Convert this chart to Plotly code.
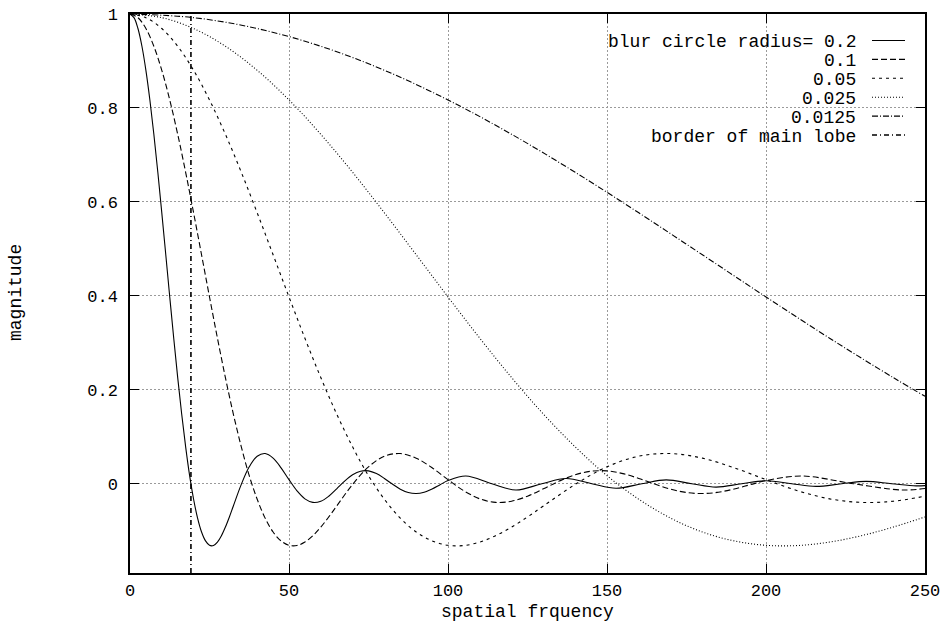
import plotly.graph_objects as go

# ---------------- data ----------------
# blur circle radius = 0.2
f_r02 = [0, 1.25, 2.5, 3.75, 5, 6.25, 7.5, 8.75, 10, 11.25, 12.5, 13.75, 15, 16.25,
         17.5, 18.75, 20, 21.25, 22.5, 23.75, 25, 26.25, 27.5, 28.75, 30, 31.25, 32.5,
         35, 37.5, 40, 42.5, 45, 47.5, 50, 52.5, 55, 57.5, 60, 62.5, 65, 67.5, 70, 72.5,
         75, 77.5, 80, 82.5, 85, 87.5, 90, 92.5, 95, 97.5, 100,
         105.6, 113.8, 121.35, 129.5, 137.1, 145.25, 152.85, 160.95, 168.6, 176.65,
         184.3, 192.35, 200.05, 208.1, 215.75, 223.8, 231.5, 239.5, 247.2, 250]
m_r02 = [1.0, 0.99221, 0.96907, 0.93132, 0.8801, 0.817, 0.74392, 0.66304, 0.57672,
         0.48745, 0.39768, 0.3098, 0.22604, 0.14838, 0.0785, 0.01718, -0.03302,
         -0.07318, -0.10271, -0.12169, -0.13105, -0.1315, -0.12415, -0.11061,
         -0.09223, -0.07066, -0.04732,
         -0.00134, 0.03605, 0.05865, 0.06426, 0.05451, 0.03396, 0.00869, -0.01503,
         -0.03215, -0.03972, -0.03723, -0.02648, -0.01082, 0.00563, 0.01906, 0.02668,
         0.02735, 0.02157, 0.0113, -0.0007, -0.01149, -0.01867, -0.02089, -0.01803,
         -0.01113, -0.00214, 0.00668,
         0.01645, 0.0, -0.01335, 0.0, 0.01111, 0.0, -0.00944, 0.0, 0.00815, 0.0,
         -0.00713, 0.0, 0.0063, 0.0, -0.00563, 0.0, 0.00507, 0.0, -0.00459, -0.0039]

# blur circle radius = 0.1
f_r01 = [0, 2.5, 5, 7.5, 10, 12.5, 15, 17.5, 20, 22.5, 25, 27.5, 30, 32.5, 35, 37.5,
         40, 42.5, 45, 47.5, 50, 52.5, 55, 57.5, 60, 62.5, 65,
         70, 75, 80, 85, 90, 95, 100, 105, 110, 115, 120, 125, 130, 135, 140, 145,
         150, 155, 160, 165, 170, 175, 180, 185, 190, 195, 200,
         211.2, 227.6, 242.7, 250]
m_r01 = [1.0, 0.99221, 0.96907, 0.93132, 0.8801, 0.817, 0.74392, 0.66304, 0.57672,
         0.48745, 0.39768, 0.3098, 0.22604, 0.14838, 0.0785, 0.01718, -0.03302,
         -0.07318, -0.10271, -0.12169, -0.13105, -0.1315, -0.12415, -0.11061,
         -0.09223, -0.07066, -0.04732,
         -0.00134, 0.03605, 0.05865, 0.06426, 0.05451, 0.03396, 0.00869, -0.01503,
         -0.03215, -0.03972, -0.03723, -0.02648, -0.01082, 0.00563, 0.01906, 0.02668,
         0.02735, 0.02157, 0.0113, -0.0007, -0.01149, -0.01867, -0.02089, -0.01803,
         -0.01113, -0.00214, 0.00668,
         0.01645, 0.0, -0.01335, -0.0101]

# blur circle radius = 0.05
f_r005 = [0, 5, 10, 15, 20, 25, 30, 35, 40, 45, 50, 55, 60, 65, 70, 75, 80, 85, 90,
          95, 100, 105, 110, 115, 120, 125, 130,
          140, 150, 160, 170, 180, 190, 200, 210, 220, 230, 240, 250]
m_r005 = [1.0, 0.99221, 0.96907, 0.93132, 0.8801, 0.817, 0.74392, 0.66304, 0.57672,
          0.48745, 0.39768, 0.3098, 0.22604, 0.14838, 0.0785, 0.01718, -0.03302,
          -0.07318, -0.10271, -0.12169, -0.13105, -0.1315, -0.12415, -0.11061,
          -0.09223, -0.07066, -0.04732,
          -0.00134, 0.03605, 0.05865, 0.06426, 0.05451, 0.03396, 0.00869, -0.01503,
          -0.03215, -0.03972, -0.03723, -0.02648]

# blur circle radius = 0.025
f_r0025 = [0, 10, 20, 30, 40, 50, 60, 70, 80, 90, 100, 110, 120, 130, 140, 150, 160,
           170, 180, 190, 200, 210, 220, 230, 240, 250]
m_r0025 = [1.0, 0.99221, 0.96907, 0.93132, 0.8801, 0.817, 0.74392, 0.66304, 0.57672,
           0.48745, 0.39768, 0.3098, 0.22604, 0.14838, 0.0785, 0.01718, -0.03302,
           -0.07318, -0.10271, -0.12169, -0.13105, -0.1315, -0.12415, -0.11061,
           -0.09223, -0.07066]

# blur circle radius = 0.0125
f_r00125 = [0, 20, 40, 60, 80, 100, 120, 140, 160, 180, 200, 220, 240, 250]
m_r00125 = [1.0, 0.99221, 0.96907, 0.93132, 0.8801, 0.817, 0.74392, 0.66304, 0.57672,
            0.48745, 0.39768, 0.3098, 0.22604, 0.18627]

# border of main lobe (first zero of the 0.2 curve)
f_border = [19.16, 19.16]
m_border = [-0.19, 1.0]

legend_labels = ["blur circle radius= 0.2", "0.1", "0.05", "0.025", "0.0125",
                 "border of main lobe"]
x_ticks = [0, 50, 100, 150, 200, 250]
y_ticks = [0, 0.2, 0.4, 0.6, 0.8, 1]
y_ticktext = ["0", "0.2", "0.4", "0.6", "0.8", "1"]

# ---------------- styles ----------------
FONT = "Liberation Mono, Courier New, monospace"
FS = 18
FS_TICK = 17
dashes = ["solid", "6px,3px", "3px,4px", "1px,2px", "6px,2px,1px,2px", "5px,3px,1px,3px"]
widths = [1.1, 1.1, 1.1, 1.1, 1.1, 1.6]

series = [(f_r02, m_r02), (f_r01, m_r01), (f_r005, m_r005), (f_r0025, m_r0025),
          (f_r00125, m_r00125), (f_border, m_border)]

fig = go.Figure()
for i, (fx, my) in enumerate(series):
    fig.add_trace(go.Scatter(
        x=fx, y=my, mode="lines", name=legend_labels[i], showlegend=False,
        line=dict(color="black", width=widths[i], dash=dashes[i],
                  shape="spline" if i < 5 else "linear", smoothing=1.0),
        hoverinfo="skip"))

W, H = 942, 627
L, R, T, B = 130, 17, 14, 54
pw, ph = W - L - R, H - T - B

def px(xp):
    return (xp - L) / pw

def py(yp):
    return (H - B - yp) / ph

annotations = []
shapes = []
for i, lab in enumerate(legend_labels):
    ys = 40.5 + 18.9 * i
    annotations.append(dict(
        text=lab, xref="paper", yref="paper", x=px(858), y=py(ys + 1.5),
        xanchor="right", yanchor="middle", showarrow=False,
        font=dict(family=FONT, size=FS, color="black")))
    shapes.append(dict(
        type="line", xref="paper", yref="paper", x0=px(872), x1=px(905),
        y0=py(ys), y1=py(ys),
        line=dict(color="black", width=widths[i], dash=dashes[i])))

annotations.append(dict(
    text="spatial frquency", xref="paper", yref="paper", x=px(527), y=py(612),
    xanchor="center", yanchor="middle", showarrow=False,
    font=dict(family=FONT, size=FS, color="black")))
annotations.append(dict(
    text="magnitude", xref="paper", yref="paper", x=px(16), y=py(293),
    xanchor="center", yanchor="middle", showarrow=False, textangle=-90,
    font=dict(family=FONT, size=FS, color="black")))

axis_common = dict(
    showline=True, linecolor="black", linewidth=1.5, mirror="ticks",
    ticks="inside", ticklen=9, tickwidth=1.2, tickcolor="black",
    showgrid=True, gridcolor="#9a9a9a", gridwidth=1, griddash="2px,2px",
    zeroline=False, automargin=False,
    tickfont=dict(family=FONT, size=FS_TICK, color="black"))

fig.update_layout(
    width=W, height=H,
    margin=dict(l=L, r=R, t=T, b=B, pad=0),
    paper_bgcolor="white", plot_bgcolor="white",
    xaxis=dict(range=[0, 250], tickvals=x_ticks, ticklabelstandoff=1, **axis_common),
    yaxis=dict(range=[-0.19, 1], tickvals=y_ticks, ticktext=y_ticktext,
               ticklabelstandoff=7, **axis_common),
    annotations=annotations, shapes=shapes,
)

fig.write_html("out.html")
